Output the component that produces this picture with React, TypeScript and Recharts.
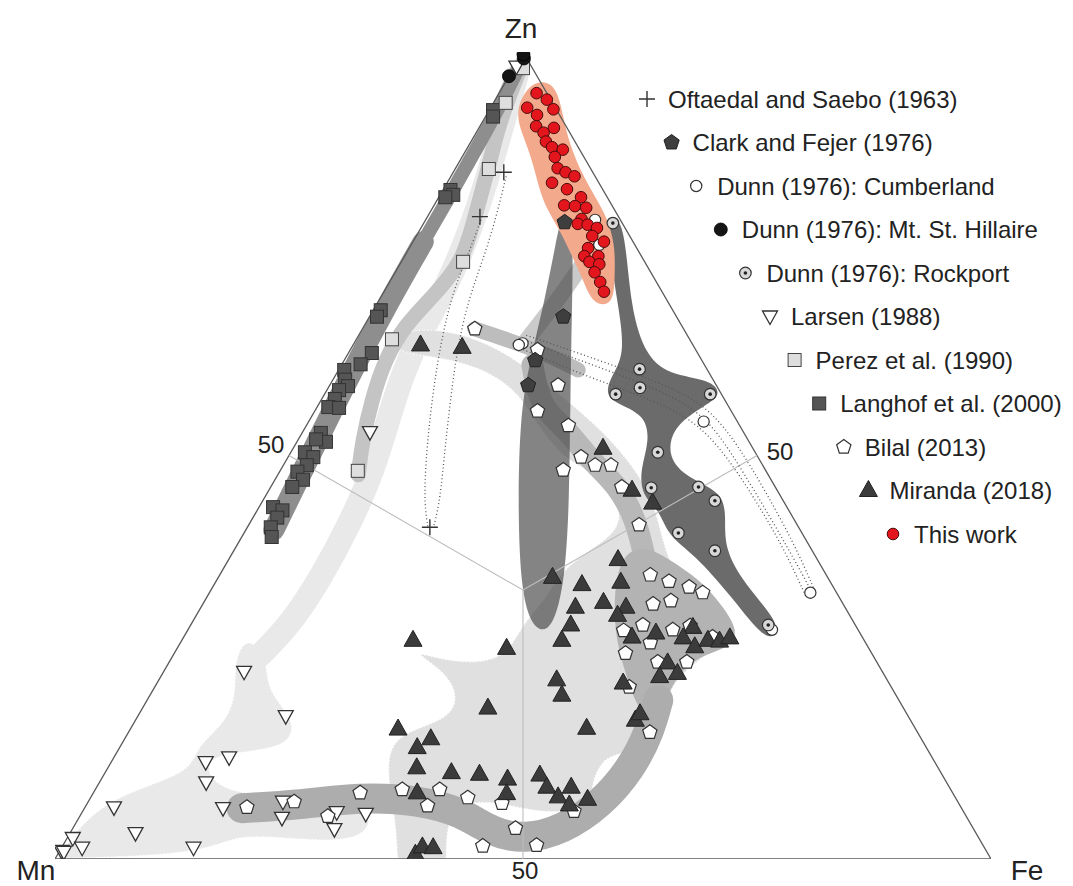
import React from 'react';
import { ScatterChart, Scatter, XAxis, YAxis, Customized } from 'recharts';

// Compositions as [Fe %, Zn %]; Mn % = 100 - Fe - Zn
type Comp = [number, number];

// ---------------- point series ----------------
const OFTAEDAL_SAEBO: Comp[] = [[5.4, 85.1], [5.6, 79.6], [19.5, 41.1]];
const CLARK_FEJER: Comp[] = [[15.0, 78.9], [20.7, 67.2], [20.4, 61.8], [21.2, 58.7]];
const DUNN_CUMBERLAND: Comp[] = [[18.1, 79.2], [20.1, 76.1], [18.0, 63.9], [17.7, 63.7], [42.2, 54.2], [64.2, 33.0], [62.4, 28.4]];
const DUNN_HILLAIRE: Comp[] = [[0.5, 99.2], [0.2, 99.7], [0.0, 97.0]];
const DUNN_ROCKPORT: Comp[] = [[20.2, 78.8], [32.1, 60.7], [33.3, 58.4], [31.1, 57.6], [41.2, 57.6], [39.2, 50.4], [40.7, 46.0], [45.7, 46.1], [48.3, 44.4], [46.4, 40.4], [51.4, 38.2], [61.7, 29.0]];
const LARSEN: Comp[] = [[0.2, 98.2], [7.2, 52.9], [8.6, 23.2], [15.8, 17.7], [10.1, 12.0], [12.3, 12.6], [11.4, 9.5], [3.1, 6.4], [14.8, 6.3], [7.0, 3.2], [14.1, 1.4], [0.6, 2.6], [2.2, 1.4], [0.2, 1.0], [0.5, 0.9], [20.8, 7.1], [21.7, 5.1], [27.2, 5.8], [28.0, 3.7], [30.4, 5.6]];
const PEREZ: Comp[] = [[1.0, 98.0], [1.3, 93.7], [3.6, 85.5], [6.6, 74.0], [3.8, 64.4], [8.3, 48.1]];
const LANGHOF: Comp[] = [[0.4, 92.8], [0.8, 92.0], [0.8, 82.9], [1.4, 82.3], [0.7, 82.0], [0.8, 68.0], [0.8, 67.2], [2.5, 62.7], [2.0, 61.3], [0.6, 60.6], [1.3, 59.4], [2.0, 58.6], [1.3, 58.1], [1.4, 57.0], [1.2, 56.0], [2.4, 55.9], [2.0, 52.8], [3.1, 51.7], [1.9, 52.0], [1.5, 50.4], [2.7, 49.8], [2.5, 48.8], [1.9, 48.0], [3.0, 47.0], [2.3, 46.1], [1.5, 43.6], [2.7, 43.2], [2.6, 42.3], [2.5, 41.1], [3.2, 39.9]];
const BILAL: Comp[] = [[12.0, 65.7], [20.0, 63.1], [24.4, 58.7], [23.8, 55.5], [28.0, 53.7], [31.3, 49.8], [33.3, 48.8], [35.0, 48.8], [30.2, 48.2], [37.5, 46.1], [41.7, 41.4], [46.0, 35.2], [48.4, 34.4], [50.9, 33.7], [52.7, 33.0], [48.1, 31.6], [49.8, 32.0], [46.6, 28.3], [48.3, 29.0], [51.8, 28.4], [53.4, 28.9], [56.5, 27.5], [50.2, 26.8], [48.2, 25.5], [52.2, 24.4], [55.3, 24.4], [50.7, 21.3], [55.7, 15.7], [17.3, 6.4], [22.0, 7.1], [26.5, 5.3], [28.5, 8.2], [32.8, 8.6], [36.8, 8.6], [36.5, 6.6], [40.3, 7.6], [44.3, 6.9], [47.3, 3.8], [44.9, 1.6], [50.6, 1.7], [52.5, 5.9]];
const MIRANDA: Comp[] = [[7.2, 63.7], [11.8, 63.4], [33.1, 50.9], [38.8, 45.7], [41.8, 44.1], [41.6, 37.1], [43.3, 34.3], [35.7, 34.9], [39.3, 34.0], [40.0, 31.2], [42.7, 31.8], [45.4, 31.2], [45.0, 30.2], [40.6, 29.0], [40.6, 27.1], [47.9, 27.5], [50.2, 28.0], [53.8, 28.7], [53.4, 27.4], [55.2, 26.3], [56.2, 27.1], [57.5, 27.0], [58.4, 27.4], [53.3, 24.3], [53.3, 22.6], [55.0, 23.0], [49.8, 21.8], [42.5, 22.2], [44.0, 20.3], [24.7, 27.1], [35.2, 26.1], [36.9, 18.7], [48.7, 16.2], [53.4, 17.2], [53.5, 18.0], [28.6, 16.1], [32.7, 14.9], [31.8, 13.8], [33.0, 11.3], [37.0, 10.7], [40.1, 10.5], [43.4, 9.9], [34.6, 8.2], [44.2, 8.1], [46.6, 10.4], [48.1, 8.9], [49.9, 7.7], [50.7, 8.9], [51.6, 6.7], [53.2, 7.4], [38.2, 0.6], [38.5, 1.5], [39.7, 1.4]];
const THIS_WORK: Comp[] = [[4.0, 94.9], [5.5, 94.1], [3.9, 93.1], [6.8, 92.9], [5.4, 92.2], [6.0, 90.8], [8.0, 90.6], [7.2, 90.0], [8.0, 88.9], [9.0, 88.2], [10.3, 87.9], [9.9, 87.0], [10.9, 85.6], [12.0, 85.1], [13.2, 84.6], [11.2, 83.8], [13.2, 83.0], [15.2, 82.0], [13.9, 81.0], [15.1, 80.9], [16.4, 80.7], [16.6, 79.3], [16.5, 78.7], [17.6, 78.6], [18.8, 78.2], [18.8, 77.2], [20.4, 76.5], [19.1, 75.7], [19.2, 74.7], [20.7, 74.7], [20.1, 74.0], [21.3, 73.7], [21.3, 72.7], [22.5, 71.5], [23.5, 70.3]];

// ---------------- compositional fields (outlines / centre lines) ----------------
const LARSEN_STRIPE: Comp[] = [[0.8, 97.0], [2.3, 91.0], [4.1, 84.1], [5.4, 77.9], [6.4, 71.1], [6.4, 65.6], [7.1, 60.0], [8.4, 54.4], [9.9, 48.2], [10.7, 42.0], [11.0, 34.6], [10.6, 29.0], [9.3, 25.3]];
const LARSEN_FIELD: Comp[] = [[6.7, 27.8], [10.4, 24.7], [12.1, 20.9], [17.1, 17.2], [18.0, 14.1], [14.0, 13.3], [10.4, 12.8], [10.7, 10.8], [13.6, 8.6], [18.2, 7.8], [25.6, 7.6], [30.7, 6.3], [32.0, 2.9], [28.3, 2.1], [20.7, 2.9], [17.6, 2.6], [15.5, 1.1], [8.9, 0.3], [0.3, 0.1], [0.3, 0.1], [0.3, 0.1], [0.5, 3.8], [2.2, 7.3], [6.4, 9.5], [9.0, 11.3], [8.2, 14.1], [9.9, 17.2], [8.9, 20.9], [6.8, 24.7]];
const MIRANDA_FIELD: Comp[] = [[3.5, 64.6], [6.2, 65.9], [11.9, 64.9], [18.1, 62.1], [25.1, 57.6], [30.9, 53.8], [36.0, 49.9], [40.8, 45.5], [44.3, 40.8], [47.1, 36.8], [52.3, 32.1], [58.5, 28.9], [57.0, 25.2], [54.8, 22.2], [56.2, 17.2], [56.1, 13.3], [51.9, 13.0], [52.9, 8.6], [54.3, 6.1], [49.0, 5.6], [44.0, 7.1], [39.3, 7.1], [40.0, 3.6], [41.8, 0], [41.8, 0], [36.6, 0], [36.6, 0], [34.0, 4.8], [30.0, 10.8], [28.3, 15.4], [33.1, 17.0], [33.4, 19.7], [30.2, 23.2], [25.0, 25.9], [28.8, 24.7], [33.3, 24.2], [35.7, 25.4], [35.4, 29.0], [36.3, 32.1], [36.3, 36.4], [39.3, 39.5], [39.6, 42.0], [37.3, 45.1], [34.2, 47.7], [30.2, 49.2], [25.2, 53.2], [20.8, 57.7], [16.3, 60.3], [12.5, 61.6], [8.9, 62.3], [5.2, 62.8]];
const PEREZ_BAND: Comp[] = [[0.6, 98.8], [1.3, 94.3], [2.1, 90.3], [3.5, 85.6], [5.0, 79.8], [6.6, 74.0], [5.5, 69.6], [4.3, 66.2], [4.3, 61.8], [5.4, 56.9], [6.9, 51.9], [8.6, 47.6]];
const LANGHOF_BAND_UPPER: Comp[] = [[0.5, 98.0], [0.9, 92.8], [1.0, 87.2], [1.1, 82.3], [1.1, 74.5]];
const LANGHOF_BAND_LOWER: Comp[] = [[1.1, 76.5], [1.1, 74.5], [1.2, 67.4], [1.5, 61.2], [1.8, 56.3], [2.2, 50.7], [2.6, 45.7], [3.0, 40.8]];
const CUMBERLAND_BAND: Comp[] = [[19.8, 77.0], [19.4, 72.4], [18.9, 68.0], [18.2, 64.1]];
const BILAL_UPPER_BAND: Comp[] = [[12.0, 65.7], [20.0, 63.1], [25.6, 60.6]];
const BILAL_MID_BAND: Comp[] = [[20.4, 61.2], [23.9, 55.9], [27.9, 53.4], [32.1, 49.7], [37.0, 46.3], [41.1, 42.0], [44.5, 37.1]];
const BILAL_RIGHT_FIELD: Comp[] = [[41.6, 37.5], [43.3, 38.9], [46.8, 37.3], [51.6, 34.6], [55.5, 31.5], [59.1, 28.1], [58.8, 26.1], [56.3, 25.2], [55.0, 22.7], [55.5, 19.5], [55.4, 16.7], [52.6, 19.0], [49.7, 22.7], [46.5, 26.9], [43.6, 32.1]];
const BILAL_LOWER_BAND: Comp[] = [[16.8, 6.3], [22.8, 6.7], [28.7, 7.7], [35.3, 7.3], [40.6, 5.8], [45.0, 3.3], [49.0, 2.4], [52.4, 3.6], [54.9, 6.7], [56.0, 11.3], [55.6, 16.0], [54.6, 19.7]];
const ROCKPORT_FIELD: Comp[] = [[19.0, 79.4], [20.6, 79.7], [23.7, 74.8], [27.6, 68.0], [31.8, 62.5], [35.5, 60.0], [40.5, 59.4], [42.6, 57.4], [41.0, 55.9], [39.2, 53.4], [40.6, 49.7], [44.0, 47.2], [48.5, 45.5], [50.4, 42.6], [52.2, 38.5], [56.7, 34.0], [62.6, 29.4], [63.3, 27.4], [61.7, 27.6], [55.8, 32.7], [49.5, 37.7], [45.4, 40.1], [43.0, 43.2], [40.2, 45.0], [38.4, 48.2], [37.6, 51.9], [35.5, 55.0], [32.2, 56.3], [30.1, 57.4], [29.5, 59.6], [29.7, 62.5], [25.8, 68.7], [21.9, 74.8]];
const CLARK_FIELD: Comp[] = [[14.1, 80.2], [16.2, 78.4], [20.6, 69.3], [26.6, 56.9], [32.7, 44.5], [37.2, 34.6], [39.0, 28.4], [37.2, 28.1], [33.4, 32.7], [27.2, 44.5], [22.5, 54.4], [20.2, 60.6], [17.7, 69.3], [15.2, 76.7]];
const RED_FIELD: Comp[] = [[2.6, 96.4], [5.0, 96.4], [7.4, 93.4], [9.4, 90.3], [12.3, 86.6], [15.8, 82.9], [19.0, 79.8], [21.8, 76.1], [23.6, 72.4], [25.4, 68.6], [23.2, 68.6], [20.6, 71.7], [17.8, 74.8], [15.0, 77.9], [12.4, 80.4], [10.3, 82.9], [7.7, 86.6], [5.1, 89.7], [2.7, 92.8]];

// ---------------- dotted connecting lines ----------------
const OFTAEDAL_TRACE_A: Comp[] = [[5.9, 84.6], [7.3, 79.8], [8.5, 74.8], [9.5, 69.3], [11.4, 63.1], [13.8, 56.9], [16.3, 50.7], [18.9, 44.5], [19.9, 41.1]];
const OFTAEDAL_TRACE_B: Comp[] = [[5.9, 79.2], [6.6, 75.5], [7.3, 70.5], [9.1, 64.3], [11.8, 56.9], [14.9, 49.4], [17.5, 43.9], [19.3, 41.1]];
const CUMBERLAND_TRACE_A: Comp[] = [[18.0, 64.3], [25.2, 61.8], [32.9, 59.1], [39.7, 56.3], [44.4, 52.9], [49.9, 47.6], [56.2, 41.4], [61.7, 35.8], [64.3, 33.1]];
const CUMBERLAND_TRACE_B: Comp[] = [[18.0, 63.3], [27.4, 59.6], [36.3, 56.6], [42.0, 53.8], [47.4, 49.4], [53.2, 43.9], [58.8, 38.3], [63.9, 32.6]];
const CUMBERLAND_TRACE_C: Comp[] = [[17.9, 64.9], [27.3, 61.8], [37.7, 58.1], [42.5, 55.4], [47.3, 51.3], [53.0, 45.7], [59.6, 38.9], [64.5, 33.3]];

// ---------------- frame ----------------
const VERTICES: Comp[] = [[0, 0], [100, 0], [0, 100]];
const CENTROID: Comp = [33.333, 33.333];
const EDGE_MIDPOINTS: Comp[] = [[50, 0], [0, 50], [50, 50]];
const VERTEX_LABELS = ['Mn', 'Fe', 'Zn'];
const TICK_LABEL = '50';

const LEGEND_LABELS = [
  'Oftaedal and Saebo (1963)',
  'Clark and Fejer (1976)',
  'Dunn (1976): Cumberland',
  'Dunn (1976): Mt. St. Hillaire',
  'Dunn (1976): Rockport',
  'Larsen (1988)',
  'Perez et al. (1990)',
  'Langhof et al. (2000)',
  'Bilal (2013)',
  'Miranda (2018)',
  'This work',
];

type Kind = 'cross' | 'clark' | 'cumberland' | 'hillaire' | 'rockport' | 'larsen' | 'perez' | 'langhof' | 'bilal' | 'miranda' | 'thiswork';
const LEGEND_KINDS: Kind[] = ['cross', 'clark', 'cumberland', 'hillaire', 'rockport', 'larsen', 'perez', 'langhof', 'bilal', 'miranda', 'thiswork'];

const FONT = '"Liberation Sans", Arial, Helvetica, sans-serif';
const SQ3 = Math.sqrt(3) / 2;
const toXY = (c: Comp) => ({ x: c[0] + c[1] / 2, y: c[1] * SQ3 });
const pts = (arr: Comp[]) => arr.map(toXY);

const pentagon = (cx: number, cy: number, r: number) => {
  let d = '';
  for (let k = 0; k < 5; k++) {
    const a = ((-90 + 72 * k) * Math.PI) / 180;
    d += (k ? 'L' : 'M') + (cx + r * Math.cos(a)).toFixed(2) + ',' + (cy + r * Math.sin(a)).toFixed(2);
  }
  return d + 'Z';
};

function drawSymbol(kind: Kind, cx: number, cy: number) {
  switch (kind) {
    case 'cross':
      return <path d={`M${cx - 8},${cy}H${cx + 8}M${cx},${cy - 8}V${cy + 8}`} stroke="#333" strokeWidth={1.4} fill="none" />;
    case 'clark':
      return <path d={pentagon(cx, cy, 8)} fill="#3e3e3e" stroke="#222" strokeWidth={1} />;
    case 'cumberland':
      return <circle cx={cx} cy={cy} r={5.6} fill="#fff" stroke="#333" strokeWidth={1.2} />;
    case 'hillaire':
      return <circle cx={cx} cy={cy} r={6.5} fill="#151515" stroke="#000" strokeWidth={0.8} />;
    case 'rockport':
      return (
        <g>
          <circle cx={cx} cy={cy} r={5.8} fill="#d8d8d8" stroke="#333" strokeWidth={1.2} />
          <circle cx={cx} cy={cy} r={1.8} fill="#222" />
        </g>
      );
    case 'larsen':
      return <path d={`M${cx - 7.5},${cy - 5.5}L${cx + 7.5},${cy - 5.5}L${cx},${cy + 8}Z`} fill="#fff" stroke="#333" strokeWidth={1.3} />;
    case 'perez':
      return <rect x={cx - 6.5} y={cy - 6.5} width={13} height={13} fill="#dedede" stroke="#444" strokeWidth={1} />;
    case 'langhof':
      return <rect x={cx - 6.5} y={cy - 6.5} width={13} height={13} fill="#555" stroke="#333" strokeWidth={1} />;
    case 'bilal':
      return <path d={pentagon(cx, cy, 7.5)} fill="#fff" stroke="#333" strokeWidth={1.2} />;
    case 'miranda':
      return <path d={`M${cx},${cy - 10}L${cx + 9},${cy + 6}L${cx - 9},${cy + 6}Z`} fill="#3b3b3b" stroke="#222" strokeWidth={1} />;
    case 'thiswork':
    default:
      return <circle cx={cx} cy={cy} r={5.8} fill="#e3161e" stroke="#4a0b0b" strokeWidth={1} />;
  }
}

const Empty = () => <g />;

const points = (key: string, data: Comp[], kind: Kind) => (
  <Scatter key={key} data={pts(data)} isAnimationActive={false} shape={(p: any) => drawSymbol(kind, p.cx, p.cy)} />
);
const band = (key: string, data: Comp[], color: string, width: number) => (
  <Scatter
    key={key}
    data={pts(data)}
    isAnimationActive={false}
    shape={Empty}
    line={{ stroke: color, strokeWidth: width, strokeLinecap: 'round', strokeLinejoin: 'round', fill: 'none' }}
    lineJointType="basis"
  />
);
const field = (key: string, data: Comp[], fill: string, opacity = 1, outline = 'none') => (
  <Scatter
    key={key}
    data={pts(data)}
    isAnimationActive={false}
    shape={Empty}
    line={{ fill, fillOpacity: opacity, stroke: outline, strokeWidth: 1.4, strokeDasharray: '1 2.5' }}
    lineJointType="basisClosed"
  />
);
const dotted = (key: string, data: Comp[]) => (
  <Scatter
    key={key}
    data={pts(data)}
    isAnimationActive={false}
    shape={Empty}
    line={{ stroke: '#555', strokeWidth: 1.3, strokeDasharray: '1 2.6', fill: 'none' }}
    lineJointType="basis"
  />
);
const segment = (key: string, data: Comp[], color: string, width: number, closed = false) => (
  <Scatter
    key={key}
    data={pts(data)}
    isAnimationActive={false}
    shape={Empty}
    line={{ stroke: color, strokeWidth: width, fill: 'none' }}
    lineJointType={closed ? 'linearClosed' : 'linear'}
  />
);

const Overlay = () => (
  <g fontFamily={FONT} fill="#222">
    <text x={513} y={30} fontSize={28} textAnchor="middle">{VERTEX_LABELS[2]}</text>
    <text x={28} y={872} fontSize={28} textAnchor="middle">{VERTEX_LABELS[0]}</text>
    <text x={1019} y={872} fontSize={28} textAnchor="middle">{VERTEX_LABELS[1]}</text>
    <text x={263} y={445} fontSize={24} textAnchor="middle">{TICK_LABEL}</text>
    <text x={772} y={452} fontSize={24} textAnchor="middle">{TICK_LABEL}</text>
    <text x={517} y={871} fontSize={24} textAnchor="middle">{TICK_LABEL}</text>
    {LEGEND_LABELS.map((label, i) => {
      const sx = 639 + 24.6 * i;
      const sy = 91 + 43.5 * i;
      return (
        <g key={label}>
          {drawSymbol(LEGEND_KINDS[i], sx, sy)}
          <text x={sx + 21} y={sy} dy="0.36em" fontSize={24} fill="#222">{label}</text>
        </g>
      );
    })}
  </g>
);

export default function App() {
  return (
    <div style={{ width: 1057, height: 886 }}>
      <style>{'html{overflow:hidden}'}</style>
      <ScatterChart width={1057} height={886} margin={{ top: 44, right: 74, bottom: 35, left: 47 }}>
        <XAxis type="number" dataKey="x" domain={[0, 100]} allowDataOverflow hide />
        <YAxis type="number" dataKey="y" domain={[0, 86.6025]} allowDataOverflow hide />

        {field('larsenField', LARSEN_FIELD, '#e9e9e9', 1, '#ffffff')}
        {band('larsenStripe', LARSEN_STRIPE, '#e9e9e9', 24)}
        {field('mirandaField', MIRANDA_FIELD, '#e0e0e0', 1, '#ffffff')}
        {band('perezBand', PEREZ_BAND, '#c4c4c4', 15)}
        {band('langhofBandU', LANGHOF_BAND_UPPER, '#8e8e8e', 14)}
        {band('langhofBandL', LANGHOF_BAND_LOWER, '#8e8e8e', 21)}
        {band('cumberlandBand', CUMBERLAND_BAND, '#cacaca', 16)}
        {band('bilalUpper', BILAL_UPPER_BAND, '#bdbdbd', 15)}
        {band('bilalMid', BILAL_MID_BAND, '#b8b8b8', 22)}
        {field('bilalRight', BILAL_RIGHT_FIELD, '#b3b3b3')}
        {band('bilalLower', BILAL_LOWER_BAND, '#adadad', 30)}
        {field('rockportField', ROCKPORT_FIELD, '#6b6b6b')}
        {field('clarkField', CLARK_FIELD, '#4a4a4a', 0.68)}
        {field('redField', RED_FIELD, '#f3a98b')}

        {segment('frame', VERTICES, '#5a5a5a', 1.3, true)}
        {EDGE_MIDPOINTS.map((m, i) => segment('median' + i, [CENTROID, m], '#bdbdbd', 1.1))}

        {dotted('oftA', OFTAEDAL_TRACE_A)}
        {dotted('oftB', OFTAEDAL_TRACE_B)}
        {dotted('cumA', CUMBERLAND_TRACE_A)}
        {dotted('cumB', CUMBERLAND_TRACE_B)}
        {dotted('cumC', CUMBERLAND_TRACE_C)}

        {points('langhof', LANGHOF, 'langhof')}
        {points('perez', PEREZ, 'perez')}
        {points('larsen', LARSEN, 'larsen')}
        {points('oftaedal', OFTAEDAL_SAEBO, 'cross')}
        {points('bilal', BILAL, 'bilal')}
        {points('miranda', MIRANDA, 'miranda')}
        {points('clark', CLARK_FEJER, 'clark')}
        {points('cumberland', DUNN_CUMBERLAND, 'cumberland')}
        {points('rockport', DUNN_ROCKPORT, 'rockport')}
        {points('hillaire', DUNN_HILLAIRE, 'hillaire')}
        {points('thiswork', THIS_WORK, 'thiswork')}

        <Customized component={Overlay} />
      </ScatterChart>
    </div>
  );
}
